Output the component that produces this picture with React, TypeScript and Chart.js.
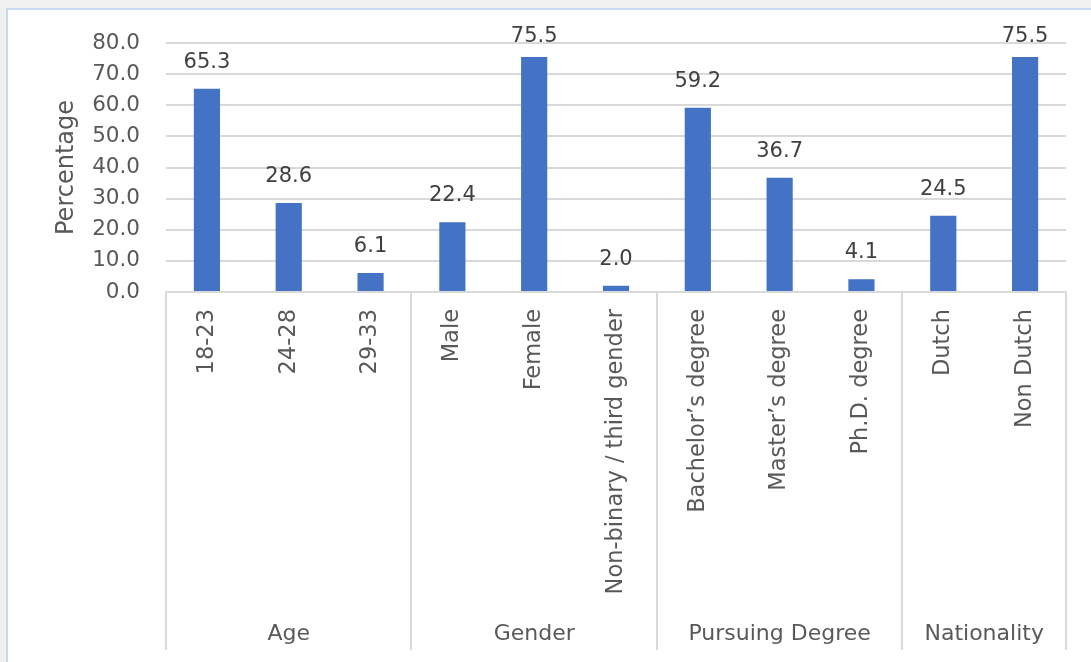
import React, { useEffect, useRef } from "react";
import { Chart, registerables } from "chart.js";

Chart.register(...registerables);

const categories = [
  "18-23", "24-28", "29-33",
  "Male", "Female", "Non-binary / third gender",
  "Bachelor’s degree", "Master’s degree", "Ph.D. degree",
  "Dutch", "Non Dutch",
];
const percentages = [65.3, 28.6, 6.1, 22.4, 75.5, 2.0, 59.2, 36.7, 4.1, 24.5, 75.5];
const groupNames = ["Age", "Gender", "Pursuing Degree", "Nationality"];
const groupSizes = [3, 3, 3, 2];
const yTicks = [0, 10, 20, 30, 40, 50, 60, 70, 80];

const FONT = "'DejaVu Sans', sans-serif";
const AXIS_TEXT = "#595959";
const GRID = "#d9d9d9";

const valueLabels = {
  id: "valueLabels",
  afterDatasetsDraw(chart: any) {
    const ctx = chart.ctx;
    const meta = chart.getDatasetMeta(0);
    ctx.save();
    ctx.font = `21px ${FONT}`;
    ctx.fillStyle = "#404040";
    ctx.textAlign = "center";
    ctx.textBaseline = "alphabetic";
    meta.data.forEach((bar: any, i: number) => {
      const v = chart.data.datasets[0].data[i] as number;
      const y = Math.max(bar.y - 21, chart.chartArea.top - 1);
      ctx.fillText(v.toFixed(1), bar.x, y);
    });
    ctx.restore();
  },
};

const groupAxis = {
  id: "groupAxis",
  afterDraw(chart: any) {
    const ctx = chart.ctx;
    const x = chart.scales.x;
    const half = (x.getPixelForValue(1) - x.getPixelForValue(0)) / 2;
    const top = chart.chartArea.bottom;
    const bottom = 650;
    ctx.save();
    ctx.strokeStyle = GRID;
    ctx.lineWidth = 2;
    let start = 0;
    const bounds: number[] = [x.getPixelForValue(0) - half];
    groupSizes.forEach((n) => {
      start += n;
      bounds.push(x.getPixelForValue(start - 1) + half);
    });
    bounds.forEach((bx) => {
      ctx.beginPath();
      ctx.moveTo(Math.round(bx), top);
      ctx.lineTo(Math.round(bx), bottom);
      ctx.stroke();
    });
    ctx.font = `22px ${FONT}`;
    ctx.fillStyle = AXIS_TEXT;
    ctx.textAlign = "center";
    ctx.textBaseline = "middle";
    groupNames.forEach((g, i) => {
      ctx.fillText(g, (bounds[i] + bounds[i + 1]) / 2, 634);
    });
    ctx.restore();
  },
};

export default function App() {
  const ref = useRef<HTMLCanvasElement>(null);
  useEffect(() => {
    if (!ref.current) return;
    const chart = new Chart(ref.current, {
      type: "bar",
      data: {
        labels: categories,
        datasets: [
          {
            data: percentages,
            backgroundColor: "#4472c4",
            barPercentage: 0.32,
            categoryPercentage: 1,
          },
        ],
      },
      options: {
        responsive: false,
        animation: false,
        layout: { padding: { left: 0, top: 43, right: 25, bottom: 0 } },
        plugins: { legend: { display: false }, tooltip: { enabled: false } },
        scales: {
          x: {
            grid: { display: false, drawTicks: false },
            border: { display: true, color: GRID, width: 2 },
            ticks: {
              minRotation: 90,
              maxRotation: 90,
              autoSkip: false,
              padding: 17,
              color: AXIS_TEXT,
              font: { family: FONT, size: 22.5 },
            },
            afterFit(scale: any) {
              scale.height = 370;
            },
          },
          y: {
            min: 0,
            max: 80,
            afterBuildTicks(scale: any) {
              scale.ticks = yTicks.map((v) => ({ value: v }));
            },
            grid: { color: GRID, lineWidth: 2, drawTicks: false },
            border: { display: false },
            ticks: {
              padding: 26,
              color: AXIS_TEXT,
              font: { family: FONT, size: 21.5 },
              callback: (v: any) => Number(v).toFixed(1),
            },
            title: {
              display: true,
              text: "Percentage",
              color: AXIS_TEXT,
              font: { family: FONT, size: 24 },
              padding: { top: 52, bottom: 0 },
            },
            afterFit(scale: any) {
              scale.width = 166;
            },
          },
        },
      },
      plugins: [valueLabels, groupAxis],
    });
    return () => chart.destroy();
  }, []);

  return (
    <div style={{ position: "fixed", inset: 0, background: "#f0f0f0", overflow: "hidden" }}>
      <div
        style={{
          position: "absolute",
          left: 6,
          top: 8,
          width: 1200,
          height: 800,
          background: "#ffffff",
          borderLeft: "2px solid #c9d9f2",
          borderTop: "2px solid #c9d9f2",
        }}
      />
      <canvas ref={ref} width={1091} height={662} style={{ position: "absolute", left: 0, top: 0 }} />
    </div>
  );
}
